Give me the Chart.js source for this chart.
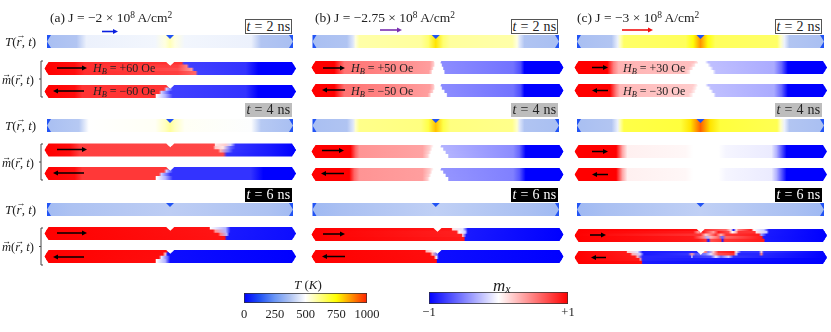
<!DOCTYPE html>
<html>
<head>
<meta charset="utf-8">
<script src="https://cdn.jsdelivr.net/npm/chart.js@4/dist/chart.umd.min.js"></script>
<style>
  html, body { margin: 0; background: #fff; }
  #fig { position: relative; width: 831px; height: 332px; overflow: hidden; font-family: "Liberation Serif", serif; color: #222; }
  canvas { position: absolute; }
  #strips { filter: blur(0.45px); }
  .lbl { position: absolute; white-space: nowrap; line-height: 1; transform: translateY(-50%); }
  .lbl i { font-style: italic; }
  .lbl sup { font-size: 70%; vertical-align: 0.45em; line-height: 0; }
  .lbl sub { font-size: 70%; vertical-align: -0.25em; line-height: 0; }
  .vec { position: relative; display: inline-block; font-style: italic; }
  .vec b { position: absolute; left: 0; right: 0; top: -0.42em; text-align: center; font-size: 0.7em; font-weight: normal; font-style: normal; }
  .tbox { position: absolute; box-sizing: border-box; text-align: center; font-size: 14px; letter-spacing: 0.3px; white-space: nowrap; }
</style>
</head>
<body>
<div id="fig">
  <canvas id="strips" width="831" height="332" style="left:0;top:0"></canvas>
  <canvas id="barT" width="163" height="32" style="left:224px;top:293px"></canvas>
  <canvas id="barM" width="179" height="32" style="left:409px;top:292px"></canvas>
</div>
<script>
// every row is position along the wire (0-100) then value, repeated
const contact = [[0, 130, 100, 130]];

// temperature profiles (K)
const a_T2 = [[0, 362, 12, 378, 16, 470, 44, 480, 48, 530, 50, 570, 52, 530, 56, 480, 83, 470, 87, 378, 100, 362]];
const a_T4 = [[0, 362, 13, 385, 17, 500, 44, 510, 48, 560, 50, 600, 52, 560, 56, 510, 83, 495, 87, 385, 100, 362]];
const a_T6 = [[0, 350, 10, 370, 50, 395, 90, 370, 100, 350]];
const b_T2 = [[0, 362, 14, 375, 16.5, 450, 17.5, 530, 19, 585, 44, 595, 47, 640, 50, 780, 53, 640, 56, 595, 81, 585, 83, 530, 84, 450, 86, 375, 100, 362]];
const b_T4 = [[0, 362, 14, 375, 16.5, 450, 17.5, 550, 19, 615, 44, 625, 47, 680, 50, 820, 53, 680, 56, 625, 81, 615, 83, 550, 84, 450, 86, 375, 100, 362]];
const b_T6 = [[0, 345, 12, 365, 50, 400, 88, 365, 100, 345]];
const c_T2 = [[0, 362, 14, 378, 16.5, 470, 17.5, 560, 19, 650, 44, 660, 47, 740, 50, 870, 53, 740, 56, 660, 81, 650, 82.5, 560, 84, 470, 86, 378, 100, 362]];
const c_T4 = [[0, 362, 14, 378, 16.5, 470, 17.5, 580, 19, 680, 42, 690, 46, 780, 50, 930, 54, 780, 58, 690, 81, 670, 82.5, 560, 84, 470, 86, 378, 100, 362]];
const c_T6 = [[0, 345, 12, 365, 50, 400, 88, 365, 100, 345]];

// magnetisation profiles (m_x), rows run top to bottom of the strip
const a_mUp2 = [
  [0, 1, 12, 0.95, 16, 0.82, 54.5, 0.8, 55.5, -0.75, 80, -0.8, 85, -1, 100, -1],
  [0, 1, 12, 0.95, 16, 0.82, 53, 0.75, 56.5, 0.5, 57.5, -0.75, 80, -0.8, 85, -1, 100, -1],
  [0, 1, 12, 0.95, 16, 0.82, 53, 0.7, 58.5, 0.4, 59.5, -0.75, 80, -0.8, 85, -1, 100, -1],
  [0, 1, 12, 0.95, 16, 0.82, 53, 0.75, 60, 0.6, 61, -0.75, 80, -0.8, 85, -1, 100, -1]
];
const a_mDn2 = [
  [0, 1, 12, 0.95, 15, 0.8, 49, 0.8, 50, -0.75, 80, -0.8, 85, -1, 100, -1],
  [0, 1, 12, 0.95, 15, 0.8, 47.5, 0.8, 48.5, -0.2, 51, -0.75, 80, -0.8, 85, -1, 100, -1],
  [0, 1, 12, 0.95, 15, 0.8, 45.5, 0.8, 46.5, -0.2, 50, -0.75, 80, -0.8, 85, -1, 100, -1],
  [0, 1, 12, 0.95, 15, 0.8, 44, 0.8, 44.5, 0, 48, -0.3, 51, -0.75, 80, -0.8, 85, -1, 100, -1]
];
const a_mUp4 = [
  [0, 1, 10, 0.95, 14, 0.75, 67.5, 0.72, 68, 0.1, 72, 0.2, 74, -0.2, 76, -0.8, 90, -0.9, 100, -1],
  [0, 1, 10, 0.95, 14, 0.75, 67, 0.72, 68, 0.2, 71, 0.1, 74, -0.6, 76, -0.8, 90, -0.9, 100, -1],
  [0, 1, 10, 0.95, 14, 0.75, 69, 0.72, 70, 0.3, 73, -0.5, 75, -0.8, 90, -0.9, 100, -1],
  [0, 1, 10, 0.95, 14, 0.75, 71, 0.72, 72.5, -0.8, 90, -0.9, 100, -1]
];
const a_mDn4 = [
  [0, 1, 12, 0.95, 15, 0.78, 49, 0.78, 50, -0.8, 82, -0.8, 87, -1, 100, -1],
  [0, 1, 12, 0.95, 15, 0.78, 47.5, 0.78, 48.5, -0.2, 51, -0.8, 82, -0.8, 87, -1, 100, -1],
  [0, 1, 12, 0.95, 15, 0.78, 45.5, 0.78, 46.5, -0.2, 50, -0.8, 82, -0.8, 87, -1, 100, -1],
  [0, 1, 12, 0.95, 15, 0.78, 44, 0.78, 44.5, 0, 48, -0.3, 51, -0.8, 82, -0.8, 87, -1, 100, -1]
];
const a_mUp6 = [
  [0, 1, 65.5, 0.92, 66, 0, 72, -0.3, 74, -0.9, 100, -0.95],
  [0, 1, 67, 0.92, 68, 0.4, 72, -0.3, 74, -0.9, 100, -0.95],
  [0, 1, 69, 0.92, 70, 0.5, 72.5, -0.3, 73.5, -0.9, 100, -0.95],
  [0, 1, 71.5, 0.92, 72.5, -0.9, 100, -0.95]
];
const a_mDn6 = [
  [0, 1, 48.5, 0.95, 49.5, -0.95, 100, -1],
  [0, 1, 47, 0.95, 48, 0.2, 49, -0.95, 100, -1],
  [0, 1, 45.5, 0.95, 46.5, -0.1, 49, -0.6, 50, -0.95, 100, -1],
  [0, 1, 44, 0.95, 44.5, 0, 48, -0.3, 50, -0.95, 100, -1]
];
const b_mUp2 = [
  [0, 1, 9, 1, 13, 0.55, 30, 0.48, 47, 0.38, 48.5, 0.2, 49, 0, 51, 0, 51.5, -0.45, 80, -0.55, 83, -0.7, 84.5, -1, 100, -1],
  [0, 1, 9, 1, 13, 0.55, 30, 0.48, 47, 0.38, 48.5, 0.2, 49, 0, 51.5, 0, 52, -0.45, 80, -0.55, 83, -0.7, 84.5, -1, 100, -1],
  [0, 1, 9, 1, 13, 0.55, 30, 0.48, 47, 0.38, 48, 0.2, 48.5, 0, 52, 0, 52.5, -0.45, 80, -0.55, 83, -0.7, 84.5, -1, 100, -1],
  [0, 1, 9, 1, 13, 0.55, 30, 0.48, 46.5, 0.38, 47.5, 0.2, 48, 0, 52.5, 0, 53, -0.45, 80, -0.55, 83, -0.7, 84.5, -1, 100, -1]
];
const b_mDn2 = [
  [0, 1, 9, 1, 13, 0.55, 30, 0.48, 47, 0.38, 48.5, 0.2, 49, 0, 51, 0, 51.5, -0.45, 80, -0.55, 83, -0.7, 84.5, -1, 100, -1],
  [0, 1, 9, 1, 13, 0.55, 30, 0.48, 47, 0.38, 48.5, 0.2, 49, 0, 51.5, 0, 52, -0.45, 80, -0.55, 83, -0.7, 84.5, -1, 100, -1],
  [0, 1, 9, 1, 13, 0.55, 30, 0.48, 46.5, 0.38, 48, 0.2, 48.5, 0, 52.5, 0, 53, -0.45, 80, -0.55, 83, -0.7, 84.5, -1, 100, -1],
  [0, 1, 9, 1, 13, 0.55, 30, 0.48, 46, 0.38, 47, 0.2, 47.5, 0, 53.5, 0, 54, -0.45, 80, -0.55, 83, -0.7, 84.5, -1, 100, -1]
];
const b_mUp4 = [
  [0, 1, 15.5, 1, 17.5, 0.6, 19, 0.42, 44, 0.36, 47, 0.18, 48.5, 0, 51, 0, 51.5, -0.3, 80, -0.45, 82.5, -0.6, 85, -1, 100, -1],
  [0, 1, 15.5, 1, 17.5, 0.6, 19, 0.42, 44, 0.36, 47, 0.18, 48, 0, 52, 0, 52.5, -0.3, 80, -0.45, 82.5, -0.6, 85, -1, 100, -1],
  [0, 1, 15.5, 1, 17.5, 0.6, 19, 0.42, 44, 0.36, 46.5, 0.18, 47.5, 0, 53, 0, 53.5, -0.3, 80, -0.45, 82.5, -0.6, 85, -1, 100, -1],
  [0, 1, 15.5, 1, 17.5, 0.6, 19, 0.42, 44, 0.36, 46, 0.18, 47, 0, 54, 0, 54.5, -0.3, 80, -0.45, 82.5, -0.6, 85, -1, 100, -1]
];
const b_mDn4 = [
  [0, 1, 15, 1, 17, 0.6, 19, 0.42, 44, 0.38, 47, 0.2, 48.5, 0, 51, 0, 51.5, -0.42, 80, -0.5, 82.5, -0.65, 85, -1, 100, -1],
  [0, 1, 15, 1, 17, 0.6, 19, 0.42, 44, 0.38, 47, 0.2, 48, 0, 52, 0, 52.5, -0.42, 80, -0.5, 82.5, -0.65, 85, -1, 100, -1],
  [0, 1, 15, 1, 17, 0.6, 19, 0.42, 44, 0.38, 46.5, 0.2, 47.5, 0, 53, 0, 53.5, -0.42, 80, -0.5, 82.5, -0.65, 85, -1, 100, -1],
  [0, 1, 15, 1, 17, 0.6, 19, 0.42, 44, 0.38, 46, 0.2, 47, 0, 54, 0, 54.5, -0.42, 80, -0.5, 82.5, -0.65, 85, -1, 100, -1]
];
const b_mUp6 = [
  [0, 1, 55.5, 0.92, 56, 0.1, 60, -0.1, 62, -0.9, 100, -1],
  [0, 1, 57.5, 0.88, 58.5, 0, 61, -0.2, 62, -0.9, 100, -1],
  [0, 1, 59.5, 0.88, 60, 0.2, 61.5, -0.9, 100, -1],
  [0, 1, 60.5, 0.9, 61, -0.9, 100, -1]
];
const b_mDn6 = [
  [0, 1, 45, 0.95, 45.5, 0.3, 49, 0, 50.5, -0.95, 100, -1],
  [0, 1, 47, 0.95, 48, 0.3, 50, -0.6, 50.5, -0.95, 100, -1],
  [0, 1, 48.5, 0.95, 49.5, 0, 50.5, -0.95, 100, -1],
  [0, 1, 49.5, 0.95, 50, -0.95, 100, -1]
];
const c_mUp2 = [
  [0, 1, 13, 1, 15.5, 0.5, 17.5, 0.3, 47, 0.25, 48.7, 0.12, 49, 0, 51.7, 0, 53, -0.25, 79, -0.33, 82, -0.6, 84.5, -1, 100, -1],
  [0, 1, 13, 1, 15.5, 0.5, 17.5, 0.3, 46, 0.25, 47.5, 0.12, 48, 0, 52.7, 0, 54, -0.25, 79, -0.33, 82, -0.6, 84.5, -1, 100, -1],
  [0, 1, 13, 1, 15.5, 0.5, 17.5, 0.3, 45, 0.25, 46.5, 0.12, 47, 0, 53.7, 0, 55, -0.25, 79, -0.33, 82, -0.6, 84.5, -1, 100, -1],
  [0, 1, 13, 1, 15.5, 0.5, 17.5, 0.3, 44, 0.25, 45.5, 0.12, 46, 0, 54.7, 0, 56, -0.25, 79, -0.33, 82, -0.6, 84.5, -1, 100, -1]
];
const c_mDn2 = [
  [0, 1, 14, 1, 16.5, 0.5, 18, 0.28, 47, 0.2, 48.5, 0.08, 49, 0, 51.8, 0, 53, -0.25, 79, -0.33, 82, -0.6, 84.5, -1, 100, -1],
  [0, 1, 14, 1, 16.5, 0.5, 18, 0.28, 46.5, 0.2, 48, 0.08, 48.5, 0, 53, 0, 54, -0.25, 79, -0.33, 82, -0.6, 84.5, -1, 100, -1],
  [0, 1, 14, 1, 16.5, 0.5, 18, 0.28, 46, 0.2, 47.5, 0.08, 48, 0, 54, 0, 55, -0.25, 79, -0.33, 82, -0.6, 84.5, -1, 100, -1],
  [0, 1, 14, 1, 16.5, 0.5, 18, 0.28, 45, 0.2, 46.5, 0.08, 47, 0, 55, 0, 56, -0.25, 79, -0.33, 82, -0.6, 84.5, -1, 100, -1]
];
const c_mUp4 = [
  [0, 1, 16.5, 1, 19, 0.35, 21, 0.06, 44, 0.03, 47, 0, 57, 0, 60, -0.04, 78, -0.08, 80, -0.3, 84, -1, 100, -1]
];
const c_mDn4 = [
  [0, 1, 16.5, 1, 19, 0.35, 21, 0.06, 44, 0.03, 47, 0, 57, 0, 60, -0.04, 78, -0.08, 80, -0.3, 84, -1, 100, -1]
];
const c_mUp6 = [
  [0, 1, 47, 0.95, 52, 0.8, 60, 0.6, 62, 0.1, 63, -0.9, 64, 0.1, 65, 0.5, 70, 0.9, 71, 0, 75, -0.2, 77, -0.9, 100, -1],
  [0, 1, 47, 0.9, 49, 0.4, 51, 0.9, 55, 0.4, 57, 0.9, 61, 0.7, 62.5, 0, 64, 0.3, 65, 0.8, 71.5, 0.8, 72, 0.1, 76, -0.2, 77, -0.9, 100, -1],
  [0, 1, 50, 0.8, 52, 0.2, 54, 0.5, 56, 0.8, 58, 0.3, 60, 0.8, 73, 0.9, 74, -0.4, 76, -0.9, 100, -1],
  [0, 1, 47, 0.9, 51, 0.5, 52.5, -0.3, 54, 0.3, 57, 0.6, 58.5, -0.6, 60, 0.6, 74, 0.9, 75, -0.9, 100, -1],
  [0, 1, 49, 0.9, 52, 0.8, 53, -0.9, 54, 0.7, 58, 0.8, 58.5, -0.9, 59.5, 0.8, 75, 0.9, 75.5, -0.9, 100, -1]
];
const c_mDn6 = [
  [0, 1, 20.5, 0.9, 21, 0.2, 25, -0.1, 27, -0.9, 49, -0.85, 50, 0.3, 52, 0.5, 53, -0.5, 55, 0.2, 57, 0.8, 63, 0.9, 64, 0.1, 66, -0.8, 73, -0.8, 74, 0.2, 75, -0.8, 100, -1],
  [0, 1, 22, 0.9, 23, 0.3, 26, -0.2, 27.5, -0.9, 45, -0.8, 46.5, 0.4, 48, -0.7, 52, -0.5, 54, -0.1, 57, 0.7, 63, 0.8, 64, -0.2, 65, -0.85, 73, -0.85, 74, 0.5, 75, -0.85, 100, -1],
  [0, 1, 24, 0.9, 25, 0.3, 27, -0.85, 46, -0.85, 46.5, -0.1, 47, -0.8, 54, -0.7, 56, -0.1, 58, -0.6, 61, -0.2, 63, -0.8, 100, -1],
  [0, 1, 25.5, 0.9, 26, 0.4, 27, -0.85, 100, -1],
  [0, 1, 26.5, 0.95, 27, -0.9, 100, -1]
];

// colour bars
const tempTicks = [0, 250, 500, 750, 1000];
const magTicks = [-1, 1];
const magTickLabels = ["\u22121", "+1"];

// labels
const panelTitles = [
  "(a) J = \u22122 \u00d7 10<sup>8</sup> A/cm<sup>2</sup>",
  "(b) J = \u22122.75 \u00d7 10<sup>8</sup> A/cm<sup>2</sup>",
  "(c) J = \u22123 \u00d7 10<sup>8</sup> A/cm<sup>2</sup>"
];
const fieldLabels = ["+60", "\u221260", "+50", "\u221250", "+30", "\u221230"];
const timeLabels = [2, 4, 6];

// layout, figure pixels
const panelLeft = [50, 315, 577];
const tempX = [[47, 293], [312.5, 559], [577, 824]];
const magX = [[44.5, 296], [311.5, 563.5], [574.5, 827]];
const tempTop = [35, 119, 203];
const magTop = [[[62, 85], [143.5, 167], [227, 250]], [[61, 84], [145, 168], [228, 250]], [[61, 84], [145, 168], [229, 251]]];
const stripH = 13;
const fieldX = [93, 351, 623];
const fieldY = [67.5, 90.5];
const tBoxX = [[245, 292], [511, 558], [775, 822]];
const tBoxY = [[19, 34], [102.5, 117], [187.5, 202]];
const tBoxStyle = [
  "background:#fff;border:1.5px solid #555;color:#222",
  "background:#bdbdbd;color:#222",
  "background:#000;color:#fff"
];
// from, to, y, colour, width
const arrows = [
  [102, 118, 31.5, "#0a1fe0", 1.6], [380, 402, 30, "#7a2fb0", 1.6], [622, 653, 30, "#f01010", 1.6],
  [57, 87, 68, "#000", 1.5], [84, 53, 91, "#000", 1.5], [57, 87, 149.5, "#000", 1.5], [84, 53, 173, "#000", 1.5], [57, 87, 233, "#000", 1.5], [84, 53, 257, "#000", 1.5],
  [323, 345, 68, "#000", 1.5], [345, 322, 90, "#000", 1.5], [322, 344, 150.5, "#000", 1.5], [344, 321, 173.5, "#000", 1.5], [323, 345, 234, "#000", 1.5], [345, 322, 256.5, "#000", 1.5],
  [592, 608, 67.5, "#000", 1.5], [608, 592, 90.5, "#000", 1.5], [592, 608, 151.5, "#000", 1.5], [608, 592, 174.5, "#000", 1.5], [590, 606, 235, "#000", 1.5], [606, 591, 257.5, "#000", 1.5]
];
const brackets = [[61, 97], [144, 180], [228, 265]];

const tempRows = [[a_T2, a_T4, a_T6], [b_T2, b_T4, b_T6], [c_T2, c_T4, c_T6]];
const magRows = [
  [[a_mUp2, a_mDn2], [a_mUp4, a_mDn4], [a_mUp6, a_mDn6]],
  [[b_mUp2, b_mDn2], [b_mUp4, b_mDn4], [b_mUp6, b_mDn6]],
  [[c_mUp2, c_mDn2], [c_mUp4, c_mDn4], [c_mUp6, c_mDn6]]
];

const tempKnots = [[0, [0, 0, 255]], [125, [30, 80, 245]], [250, [106, 150, 245]], [375, [176, 196, 242]], [500, [255, 255, 255]], [750, [255, 255, 0]], [875, [255, 144, 0]], [1000, [255, 32, 0]]];
const magKnots = [[-1, [0, 0, 255]], [0, [255, 255, 255]], [1, [255, 0, 0]]];

function colorAt(knots, v) {
  for (let i = 1; i < knots.length; i++) {
    if (v <= knots[i][0]) {
      const f = (v - knots[i - 1][0]) / (knots[i][0] - knots[i - 1][0]);
      const a = knots[i - 1][1], b = knots[i][1];
      return "rgb(" + a.map((c, k) => Math.round(c + (b[k] - c) * f)).join(",") + ")";
    }
  }
  return "rgb(" + knots[knots.length - 1][1].join(",") + ")";
}

function rowFill(c) {
  if (c.type !== "data" || !c.raw) return "#fff";
  const x = c.chart.scales.x;
  const x0 = x.getPixelForValue(c.raw.x[0]), x1 = x.getPixelForValue(c.raw.x[1]);
  if (!isFinite(x0) || !isFinite(x1)) return "#fff";  // scales not laid out yet
  const g = c.chart.ctx.createLinearGradient(x0, 0, x1, 0);
  for (let i = 0; i < c.raw.stops.length; i += 2) {
    g.addColorStop(c.raw.stops[i] / 100, colorAt(c.raw.knots, c.raw.stops[i + 1]));
  }
  return g;
}

function stripDataset(rows, knots, left, right, top, height, shape, order) {
  const rowH = height / rows.length;
  return {
    data: rows.map((stops, i) => ({ x: [left, right], y: top + rowH * (i + 0.5), stops: stops, knots: knots })),
    barThickness: rows.length === 1 ? height : Math.ceil(rowH) + 1,
    grouped: false,
    borderWidth: 0,
    inflateAmount: 0,
    backgroundColor: rowFill,
    order: order,
    shape: shape,
    span: [left, right, top, height]
  };
}

const datasets = [];
for (let p = 0; p < 3; p++) {
  for (let r = 0; r < 3; r++) {
    datasets.push(stripDataset(contact, tempKnots, tempX[p][0], tempX[p][1], tempTop[r], stripH, "", 1));
    datasets.push(stripDataset(tempRows[p][r], tempKnots, tempX[p][0], tempX[p][1], tempTop[r], stripH, "T", 0));
    for (let k = 0; k < 2; k++) {
      datasets.push(stripDataset(magRows[p][r][k], magKnots, magX[p][0], magX[p][1], magTop[p][r][k], stripH, "m", 0));
    }
  }
}

// wire outline: pointed ends and the notch on top at the centre.
// T strips overshoot by 1px so the contact colour does not fringe along the edges
const wireClip = {
  id: "wireClip",
  beforeDatasetDraw(chart, args) {
    const ds = chart.data.datasets[args.index];
    if (!ds.shape) return;
    const sx = chart.scales.x, sy = chart.scales.y;
    const l = sx.getPixelForValue(ds.span[0]), r = sx.getPixelForValue(ds.span[1]);
    const t = sy.getPixelForValue(ds.span[2]), b = sy.getPixelForValue(ds.span[2] + ds.span[3]);
    const m = (t + b) / 2, c = (l + r) / 2, tip = 4;
    const over = ds.shape === "T" ? 1 : 0;
    const ctx = chart.ctx;
    ctx.save();
    ctx.beginPath();
    ctx.moveTo(l, m);
    ctx.lineTo(l + tip, t);
    ctx.lineTo(l + tip, t - over);
    ctx.lineTo(c - 4, t - over);
    ctx.lineTo(c - 4, t);
    ctx.lineTo(c, t + 4);
    ctx.lineTo(c + 4, t);
    ctx.lineTo(c + 4, t - over);
    ctx.lineTo(r - tip, t - over);
    ctx.lineTo(r - tip, t);
    ctx.lineTo(r, m);
    ctx.lineTo(r - tip, b);
    ctx.lineTo(r - tip, b + over);
    ctx.lineTo(l + tip, b + over);
    ctx.lineTo(l + tip, b);
    ctx.closePath();
    ctx.clip();
  },
  afterDatasetDraw(chart, args) {
    if (chart.data.datasets[args.index].shape) chart.ctx.restore();
  }
};

const marks = {
  id: "marks",
  afterDatasetsDraw(chart) {
    const ctx = chart.ctx, sx = chart.scales.x, sy = chart.scales.y;
    ctx.save();
    for (const [x0, x1, y, color, w] of arrows) {
      const a = sx.getPixelForValue(x0), b = sx.getPixelForValue(x1), py = sy.getPixelForValue(y);
      const d = b > a ? 1 : -1;
      ctx.strokeStyle = color;
      ctx.fillStyle = color;
      ctx.lineWidth = w;
      ctx.beginPath();
      ctx.moveTo(a, py);
      ctx.lineTo(b - d * 3, py);
      ctx.stroke();
      ctx.beginPath();
      ctx.moveTo(b, py);
      ctx.lineTo(b - d * 5, py - 2.5);
      ctx.lineTo(b - d * 5, py + 2.5);
      ctx.closePath();
      ctx.fill();
    }
    ctx.strokeStyle = "#444";
    ctx.lineWidth = 1;
    for (const [y0, y1] of brackets) {
      const a = sy.getPixelForValue(y0), b = sy.getPixelForValue(y1), mid = (a + b) / 2;
      ctx.beginPath();
      ctx.moveTo(43, a);
      ctx.lineTo(41, a);
      ctx.lineTo(41, b);
      ctx.lineTo(43, b);
      ctx.moveTo(41, mid);
      ctx.lineTo(39, mid);
      ctx.stroke();
    }
    ctx.restore();
  }
};

new Chart(document.getElementById("strips"), {
  type: "bar",
  data: { datasets: datasets },
  plugins: [wireClip, marks],
  options: {
    indexAxis: "y",
    responsive: false,
    animation: false,
    events: [],
    layout: { padding: 0 },
    plugins: { legend: { display: false }, tooltip: { enabled: false } },
    scales: {
      x: { type: "linear", min: 0, max: 831, display: false },
      y: { type: "linear", min: 0, max: 332, reverse: true, offset: false, display: false }
    }
  }
});

function colorBar(id, knots, ticks, labels, padX, tickPad, barH) {
  const lo = ticks[0], hi = ticks[ticks.length - 1];
  new Chart(document.getElementById(id), {
    type: "bar",
    data: {
      labels: [""],
      datasets: [{
        data: [[lo, hi]],
        barPercentage: 1,
        categoryPercentage: 1,
        borderWidth: 1,
        borderColor: "#333",
        borderSkipped: false,
        backgroundColor(c) {
          const x = c.chart.scales.x;
          const x0 = x.getPixelForValue(lo), x1 = x.getPixelForValue(hi);
          if (!isFinite(x0) || !isFinite(x1)) return "#fff";
          const g = c.chart.ctx.createLinearGradient(x0, 0, x1, 0);
          for (const k of knots) {
            g.addColorStop((k[0] - lo) / (hi - lo), colorAt(knots, k[0]));
          }
          return g;
        }
      }]
    },
    options: {
      indexAxis: "y",
      responsive: false,
      animation: false,
      events: [],
      layout: { padding: { left: padX, right: padX, top: 0, bottom: 0 } },
      plugins: { legend: { display: false }, tooltip: { enabled: false } },
      scales: {
        y: { display: false },
        x: {
          type: "linear",
          min: lo,
          max: hi,
          grid: { display: false, drawTicks: false },
          border: { display: false },
          afterBuildTicks(s) { s.ticks = ticks.map(v => ({ value: v })); },
          afterFit(s) { s.height = 32 - barH; },
          ticks: {
            autoSkip: false,
            maxRotation: 0,
            padding: tickPad,
            color: "#222",
            font: { family: "Liberation Serif", size: 12.5 },
            callback(v) { return labels ? labels[ticks.indexOf(v)] : String(v); }
          }
        }
      }
    }
  });
}
colorBar("barT", tempKnots, tempTicks, null, 20, 4.5, 10);
colorBar("barM", magKnots, magTicks, magTickLabels, 20, 1, 12);

// text
const fig = document.getElementById("fig");
function addLabel(html, x, y, size) {
  const el = document.createElement("div");
  el.className = "lbl";
  el.innerHTML = html;
  el.style.left = x + "px";
  el.style.top = y + "px";
  el.style.fontSize = size + "px";
  fig.appendChild(el);
}
const vecR = '<span class="vec">r<b>\u2192</b></span>';
const vecM = '<span class="vec">m<b>\u2192</b></span>';
panelTitles.forEach((t, p) => addLabel(t, panelLeft[p], 18, 13.5));
[41, 125, 209].forEach(y => addLabel("<i>T</i>(" + vecR + ", <i>t</i>)", 5, y, 13));
[80, 163, 247].forEach(y => addLabel(vecM + "(" + vecR + ", <i>t</i>)", 2, y, 12.5));
for (let p = 0; p < 3; p++) {
  for (let k = 0; k < 2; k++) {
    addLabel("<i>H<sub>B</sub></i> = " + fieldLabels[p * 2 + k] + " Oe", fieldX[p], fieldY[k], 12);
  }
  for (let r = 0; r < 3; r++) {
    const box = document.createElement("div");
    box.className = "tbox";
    box.innerHTML = "<i>t</i> = " + timeLabels[r] + " ns";
    const h = tBoxY[r][1] - tBoxY[r][0];
    box.style.cssText = "left:" + tBoxX[p][0] + "px;top:" + tBoxY[r][0] + "px;width:" + (tBoxX[p][1] - tBoxX[p][0]) + "px;height:" + h + "px;line-height:" + (h - 1) + "px;" + tBoxStyle[r];
    fig.appendChild(box);
  }
}
addLabel("<i>T</i> (<i>K</i>)", 294, 284, 13);
addLabel("<i>m<sub>x</sub></i>", 493, 285, 17);
</script>
</body>
</html>
